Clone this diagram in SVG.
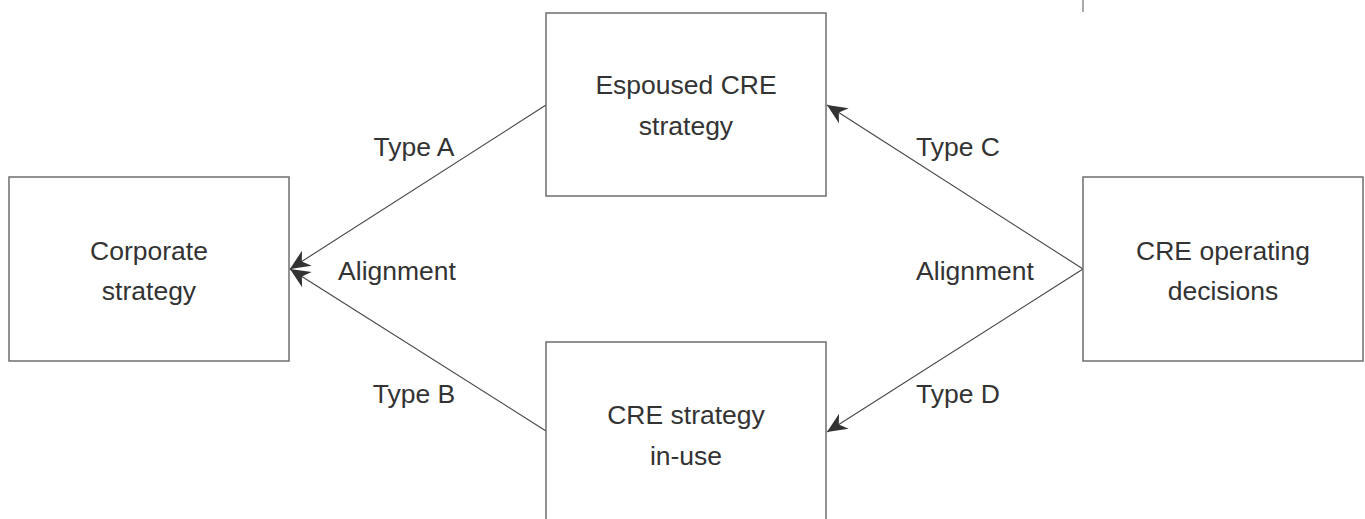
<svg xmlns="http://www.w3.org/2000/svg" width="1365" height="519" viewBox="0 0 1365 519">
<style>
.box{fill:#fff;stroke:#6e6e6e;stroke-width:1.5}
.t{font-family:"Liberation Sans",Arial,sans-serif;font-size:26.5px;fill:#333;text-anchor:middle}
.c{fill:none;stroke:#444;stroke-width:1.1}
</style>
<defs>
<marker id="ah" markerUnits="userSpaceOnUse" viewBox="-20 -10 22 20" refX="0" refY="0" markerWidth="22" markerHeight="20" orient="auto" overflow="visible">
<path d="M0,0 L-20,-9 L-14,0 L-20,9 Z" fill="#333"/>
</marker>
</defs>
<rect width="1365" height="519" fill="#fff"/>
<line x1="1083" y1="0" x2="1083" y2="12" stroke="#aaa" stroke-width="2"/>
<g id="connectors">
<path class="c" d="M546,105 L290,269" marker-end="url(#ah)"/>
<path class="c" d="M546,431 L290,269" marker-end="url(#ah)"/>
<path class="c" d="M1083,269 L827,105" marker-end="url(#ah)"/>
<path class="c" d="M1083,269 L827,432" marker-end="url(#ah)"/>
</g>
<g id="labels">
<text class="t" x="414" y="156">Type A</text>
<text class="t" x="397" y="280">Alignment</text>
<text class="t" x="414" y="403">Type B</text>
<text class="t" x="958" y="156">Type C</text>
<text class="t" x="975" y="280">Alignment</text>
<text class="t" x="958" y="403">Type D</text>
</g>
<g id="corporate">
<rect class="box" x="9" y="177" width="280" height="184"/>
<text class="t" x="149" y="260">Corporate</text>
<text class="t" x="149" y="300">strategy</text>
</g>
<g id="espoused">
<rect class="box" x="546" y="13" width="280" height="183"/>
<text class="t" x="686" y="94">Espoused CRE</text>
<text class="t" x="686" y="135">strategy</text>
</g>
<g id="inuse">
<rect class="box" x="546" y="342" width="280" height="200"/>
<text class="t" x="686" y="424">CRE strategy</text>
<text class="t" x="686" y="465">in-use</text>
</g>
<g id="operating">
<rect class="box" x="1083" y="177" width="280" height="184"/>
<text class="t" x="1223" y="260">CRE operating</text>
<text class="t" x="1223" y="300">decisions</text>
</g>
</svg>
